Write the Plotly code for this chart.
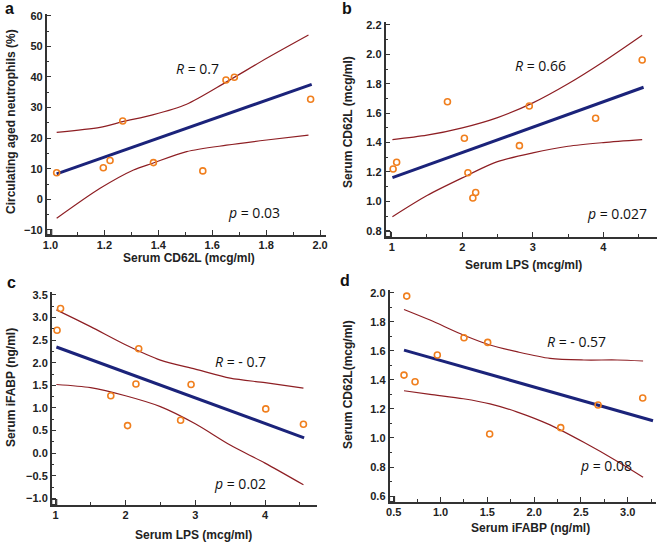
import plotly.graph_objects as go

W, H = 661, 543

# ---------------- data ----------------
# Panel a: Serum CD62L vs circulating aged neutrophils
a_x = [1.023, 1.196, 1.221, 1.268, 1.382, 1.565, 1.651, 1.682, 1.965]
a_y = [8.7, 10.3, 12.7, 25.6, 12.0, 9.3, 39.0, 39.9, 32.7]
a_fit_x = [1.023, 1.969]
a_fit_y = [8.3, 37.6]
a_up_x = [1.023, 1.184, 1.268, 1.379, 1.505, 1.653, 1.802, 1.957]
a_up_y = [21.9, 23.5, 25.4, 27.6, 31.1, 38.4, 46.1, 53.7]
a_lo_x = [1.023, 1.184, 1.308, 1.379, 1.505, 1.653, 1.802, 1.957]
a_lo_y = [-6.2, 3.6, 9.6, 11.8, 15.6, 17.7, 19.4, 21.0]

# Panel b: Serum LPS vs Serum CD62L
b_x = [1.02, 1.07, 1.79, 2.03, 2.08, 2.15, 2.19, 2.81, 2.95, 3.89, 4.55]
b_y = [1.22, 1.266, 1.678, 1.429, 1.195, 1.023, 1.06, 1.379, 1.649, 1.565, 1.962]
b_fit_x = [1.01, 4.57]
b_fit_y = [1.161, 1.776]
b_band_x = [1.01, 1.5, 2.0, 2.5, 3.0, 3.5, 4.0, 4.55]
b_up_y = [1.42, 1.45, 1.50, 1.57, 1.67, 1.80, 1.95, 2.13]
b_lo_y = [0.896, 1.04, 1.16, 1.27, 1.33, 1.375, 1.40, 1.42]

# Panel c: Serum LPS vs Serum iFABP
c_x = [1.02, 1.07, 1.79, 2.03, 2.15, 2.19, 2.79, 2.94, 4.01, 4.55]
c_y = [2.72, 3.20, 1.27, 0.61, 1.53, 2.31, 0.73, 1.52, 0.98, 0.64]
c_fit_x = [1.01, 4.56]
c_fit_y = [2.35, 0.34]
c_band_x = [1.01, 1.5, 2.0, 2.5, 3.0, 3.5, 4.0, 4.55]
c_up_y = [3.17, 2.80, 2.40, 2.06, 1.86, 1.66, 1.56, 1.44]
c_lo_y = [1.52, 1.45, 1.27, 1.03, 0.65, 0.18, -0.22, -0.70]

# Panel d: Serum iFABP vs Serum CD62L
d_x = [0.61, 0.639, 0.728, 0.966, 1.251, 1.504, 1.525, 2.284, 2.683, 3.160]
d_y = [1.433, 1.977, 1.387, 1.571, 1.690, 1.658, 1.027, 1.071, 1.227, 1.275]
d_fit_x = [0.61, 3.27]
d_fit_y = [1.605, 1.119]
d_band_x = [0.61, 0.888, 1.244, 1.529, 1.814, 2.17, 2.53, 2.886, 3.164]
d_up_y = [1.885, 1.812, 1.709, 1.64, 1.594, 1.548, 1.537, 1.537, 1.530]
d_lo_y = [1.325, 1.30, 1.27, 1.235, 1.18, 1.09, 0.97, 0.84, 0.73]

letters = ["a", "b", "c", "d"]
x_titles = ["Serum CD62L (mcg/ml)", "Serum LPS (mcg/ml)", "Serum LPS (mcg/ml)", "Serum iFABP (ng/ml)"]
y_titles = ["Circulating aged neutrophils (%)", "Serum CD62L (mcg/ml)", "Serum iFABP (ng/ml)", "Serum CD62L(mcg/ml)"]
r_texts = ["<i>R</i> = 0.7", "<i>R</i> = 0.66", "<i>R</i> = - 0.7", "<i>R</i> = - 0.57"]
p_texts = ["<i>p</i> = 0.03", "<i>p</i> = 0.027", "<i>p</i> = 0.02", "<i>p</i> = 0.08"]

# ---------------- styling / layout (pixels) ----------------
PT_COLOR = "#F07F1E"
FIT_COLOR = "#1B237A"
BAND_COLOR = "#8E1F24"
AX_COLOR = "#333333"

# plot boxes: (left, right, top, bottom) in px
boxes = [(46.7, 326, 13.5, 234.5), (385.5, 657, 22, 236.5),
         (51.7, 316.7, 292, 504.5), (389.5, 656, 290, 501.5)]
xranges = [[0.986, 2.022], [0.912, 4.76], [0.943, 4.74], [0.455, 3.302]]
yranges = [[-11.5, 60.75], [0.761, 2.22], [-1.135, 3.566], [0.5625, 2.019]]
xticks = [(0.2, 0.1, ".1f"), (1, 0.5, "d"), (1, 0.5, "d"), (0.5, 0.25, ".1f")]
yticks = [(10, 5, "d"), (0.2, 0.1, ".1f"), (0.5, 0.25, ".1f"), (0.2, 0.1, ".1f")]
xtick0 = [1.0, 1, 1, 0.5]
ytick0 = [-10, 0.8, -1.0, 0.6]

letter_pos = [(9, 9), (347, 9), (11, 282), (345, 280)]
ytitle_pos = [(11, 122), (348, 122), (11, 388), (348, 385)]
xtitle_pos = [(189, 258), (523, 265), (193, 535), (530, 528)]
r_pos = [(197, 68), (540, 65), (240, 361), (576, 341)]
p_pos = [(254, 212), (617, 213), (240, 483), (606, 465)]

panels = [
    (a_x, a_y, a_fit_x, a_fit_y, a_up_x, a_up_y, a_lo_x, a_lo_y),
    (b_x, b_y, b_fit_x, b_fit_y, b_band_x, b_up_y, b_band_x, b_lo_y),
    (c_x, c_y, c_fit_x, c_fit_y, c_band_x, c_up_y, c_band_x, c_lo_y),
    (d_x, d_y, d_fit_x, d_fit_y, d_band_x, d_up_y, d_band_x, d_lo_y),
]

fig = go.Figure()
layout = {}
annotations = []
shapes = []

def px2x(p):
    return p / W

def py2y(p):
    return 1 - p / H

tickfont = dict(family="Liberation Sans, Arial, sans-serif", size=11, color="#222222", weight="bold")
titlefont = dict(family="Liberation Sans, Arial, sans-serif", size=12, color="#222222", weight="bold")
annfont = dict(family="Open Sans, Noto Sans, sans-serif", size=14, color="#111111")

def ann(text, pos, font, angle=0):
    return dict(text=text, x=px2x(pos[0]), y=py2y(pos[1]), xref="paper", yref="paper",
                xanchor="center", yanchor="middle", showarrow=False, textangle=angle, font=font)

for i, (px_, py_, fx, fy, ux, uy, lx, ly) in enumerate(panels):
    n = "" if i == 0 else str(i + 1)
    xa, ya = "x" + n, "y" + n
    for bx, by in ((ux, uy), (lx, ly)):
        fig.add_trace(go.Scatter(x=bx, y=by, mode="lines", xaxis=xa, yaxis=ya,
                                 line=dict(color=BAND_COLOR, width=1.2, shape="spline", smoothing=0.8),
                                 hoverinfo="skip", showlegend=False))
    fig.add_trace(go.Scatter(x=fx, y=fy, mode="lines", xaxis=xa, yaxis=ya,
                             line=dict(color=FIT_COLOR, width=3), showlegend=False))
    fig.add_trace(go.Scatter(x=px_, y=py_, mode="markers", xaxis=xa, yaxis=ya,
                             marker=dict(symbol="circle-open", size=6, color=PT_COLOR,
                                         line=dict(width=1.6, color=PT_COLOR)),
                             showlegend=False))
    L, R, T, B = boxes[i]
    dx, mx, fx_fmt = xticks[i]
    dy, my, fy_fmt = yticks[i]
    common = dict(showline=True, linecolor=AX_COLOR, linewidth=1.5, showgrid=False, zeroline=False,
                  ticks="inside", ticklen=5, tickwidth=1.2, tickcolor=AX_COLOR, tickfont=tickfont,
                  automargin=False, fixedrange=True)
    layout["xaxis" + n] = dict(
        domain=[px2x(L), px2x(R)], range=xranges[i], anchor=ya,
        tick0=xtick0[i], dtick=dx, tickformat=fx_fmt,
        minor=dict(ticks="inside", ticklen=3, tickwidth=1, tickcolor=AX_COLOR, dtick=mx, tick0=xtick0[i], showgrid=False),
        **common)
    layout["yaxis" + n] = dict(
        domain=[py2y(B), py2y(T)], range=yranges[i], anchor=xa,
        tick0=ytick0[i], dtick=dy, tickformat=fy_fmt,
        minor=dict(ticks="inside", ticklen=3, tickwidth=1, tickcolor=AX_COLOR, dtick=my, tick0=ytick0[i], showgrid=False),
        **common)
    # small corner square at the origin
    shapes.append(dict(type="rect", xref="paper", yref="paper",
                       x0=px2x(L), x1=px2x(L + 5), y0=py2y(B), y1=py2y(B - 5),
                       line=dict(color=AX_COLOR, width=1.2)))
    annotations += [
        ann(letters[i], letter_pos[i], dict(family="Liberation Sans, Arial", size=16, color="#111", weight="bold")),
        ann(y_titles[i], ytitle_pos[i], titlefont, -90),
        ann(x_titles[i], xtitle_pos[i], titlefont),
        ann(r_texts[i], r_pos[i], annfont),
        ann(p_texts[i], p_pos[i], annfont),
    ]

fig.update_layout(width=W, height=H, margin=dict(l=0, r=0, t=0, b=0, pad=0, autoexpand=False),
                  paper_bgcolor="white", plot_bgcolor="white",
                  annotations=annotations, shapes=shapes, showlegend=False, **layout)
fig.write_html("out.html", config={"displayModeBar": False},
               post_script="document.body.style.margin='0';document.body.style.overflow='hidden';")
